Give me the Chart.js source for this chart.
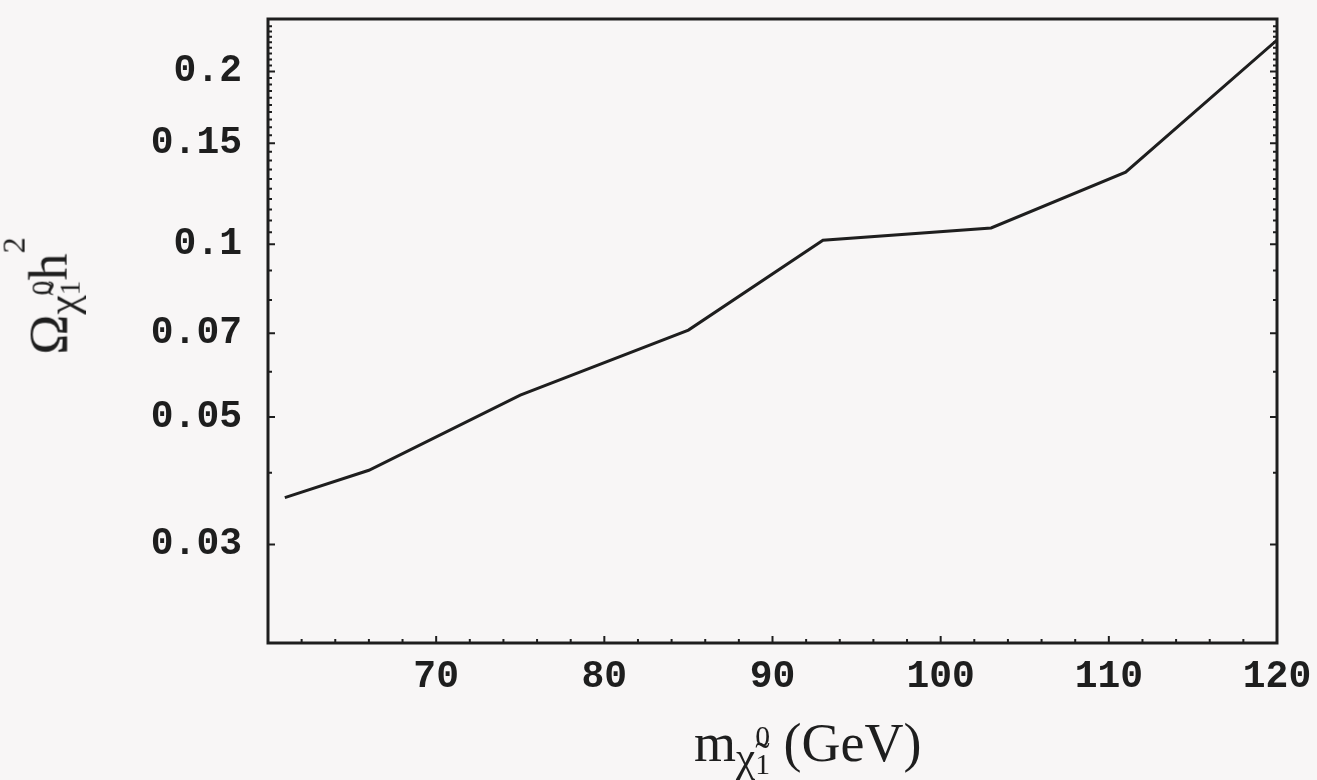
<!DOCTYPE html>
<html>
<head>
<meta charset="utf-8">
<script src="https://cdn.jsdelivr.net/npm/chart.js@4.4.1/dist/chart.umd.min.js"></script>
<style>
  html, body { margin: 0; padding: 0; background: #f8f6f6; }
  #wrap { position: relative; width: 1317px; height: 780px; overflow: hidden; }
  #chart { position: absolute; left: 0; top: 0; }
  .title { position: absolute; font-family: "Liberation Serif", serif; color: #1e1e1e; white-space: nowrap; line-height: 1; }
  .chi { font-size: 0.8em; position: relative; top: 0.22em; }
  .stack { display: inline-block; font-size: 0.55em; line-height: 0.95; vertical-align: middle; position: relative; top: 0.05em; text-align: left; }
  #xtitle { left: 694px; top: 716px; font-size: 54px; }
  #ytitle { left: 52px; top: 296px; font-size: 54px; transform: translate(-50%, -50%) rotate(-90deg); }
  .sup2 { font-size: 0.6em; position: relative; top: -1.3em; }
</style>
</head>
<body>
<div id="wrap">
  <canvas id="chart" width="1317" height="780"></canvas>
  <div class="title" id="xtitle">m<span class="chi">χ̃</span><span class="stack">0<br>1</span> (GeV)</div>
  <div class="title" id="ytitle">Ω<span class="chi">χ̃</span><span class="stack">0<br>1</span>h<span class="sup2">2</span></div>
</div>
<script>
// Data
const neutralinoMass = [61, 66, 75, 85, 93, 103, 111, 120];
const relicDensity = [0.0362, 0.0404, 0.0546, 0.0709, 0.1017, 0.1068, 0.1336, 0.227];

// Axis ticks
const xTickValues = [70, 80, 90, 100, 110, 120];
const yTickValues = [0.03, 0.05, 0.07, 0.1, 0.15, 0.2];

const ink = '#1e1e1e';
const monoFont = { family: '"Liberation Mono", monospace', size: 38, weight: 'bold' };

// Minor tick positions (frame decoration only)
const xMinor = [];
for (let v = 60; v <= 120; v += 2) xMinor.push(v);
const yMinor = [];
for (let v = 0.03; v < 0.1; v += 0.01) yMinor.push(+v.toFixed(3));
for (let v = 0.1; v <= 0.245; v += 0.005) yMinor.push(+v.toFixed(3));

// Frame with inward ticks, drawn through the chart scales
const framePlugin = {
  id: 'frame',
  afterDraw(chart) {
    const { ctx, chartArea: a, scales } = chart;
    const xs = scales.x, ys = scales.y;
    ctx.save();
    ctx.strokeStyle = ink;
    ctx.lineWidth = 2;
    ctx.beginPath();
    xMinor.forEach(v => {
      const px = xs.getPixelForValue(v);
      const len = v % 10 === 0 ? 7 : 4;
      ctx.moveTo(px, a.bottom);
      ctx.lineTo(px, a.bottom - len);
    });
    yMinor.forEach(v => {
      const py = ys.getPixelForValue(v);
      const len = yTickValues.includes(v) ? 7 : 4;
      ctx.moveTo(a.left, py);
      ctx.lineTo(a.left + len, py);
      ctx.moveTo(a.right, py);
      ctx.lineTo(a.right - len, py);
    });
    ctx.stroke();
    ctx.lineWidth = 3;
    ctx.strokeRect(a.left, a.top, a.right - a.left, a.bottom - a.top);
    ctx.restore();
  }
};

const chart = new Chart(document.getElementById('chart'), {
  type: 'line',
  data: {
    datasets: [{
      data: neutralinoMass.map((m, i) => ({ x: m, y: relicDensity[i] })),
      borderColor: ink,
      borderWidth: 3,
      pointRadius: 0,
      tension: 0,
      fill: false
    }]
  },
  options: {
    responsive: false,
    animation: false,
    devicePixelRatio: 1,
    layout: { padding: { left: 0, top: 19, right: 40, bottom: 0 } },
    plugins: {
      legend: { display: false },
      tooltip: { enabled: false }
    },
    scales: {
      x: {
        type: 'linear',
        min: 60,
        max: 120,
        afterBuildTicks: (scale) => { scale.ticks = xTickValues.map(v => ({ value: v })); },
        afterFit: (scale) => {
          scale.height = 137;
          scale.paddingLeft = 0;
          scale.paddingRight = 0;
        },
        grid: { display: false, drawTicks: false },
        border: { display: false },
        ticks: { color: ink, font: monoFont, padding: 12, maxRotation: 0, autoSkip: false }
      },
      y: {
        type: 'logarithmic',
        min: 0.0202,
        max: 0.247,
        afterBuildTicks: (scale) => { scale.ticks = yTickValues.map(v => ({ value: v })); },
        afterFit: (scale) => {
          scale.width = 268;
          scale.paddingTop = 0;
          scale.paddingBottom = 0;
        },
        grid: { display: false, drawTicks: false },
        border: { display: false },
        ticks: { color: ink, font: monoFont, padding: 26, autoSkip: false, callback: (v) => String(v) }
      }
    }
  },
  plugins: [framePlugin]
});
</script>
</body>
</html>
